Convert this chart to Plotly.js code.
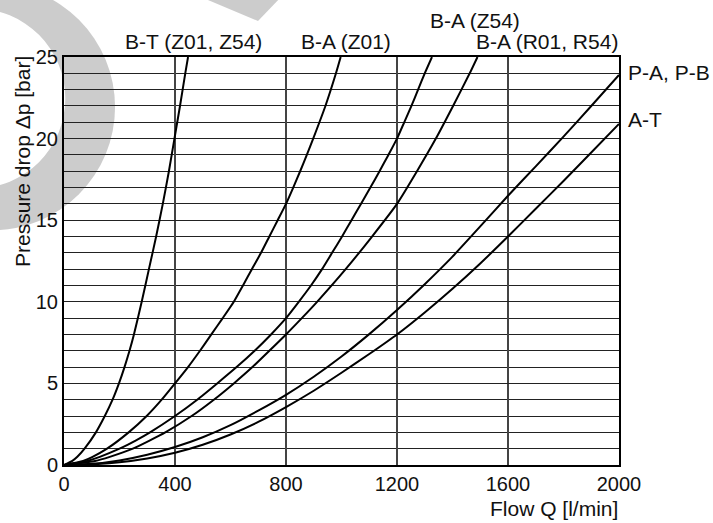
<!DOCTYPE html>
<html>
<head>
<meta charset="utf-8">
<script src="https://cdn.plot.ly/plotly-3.0.1.min.js"></script>
<style>
html,body{margin:0;padding:0;background:#fff;}
#chart{width:713px;height:523px;}
</style>
</head>
<body>
<div id="chart"></div>
<script>
// ---- data ----
const seriesNames = ["B-T (Z01, Z54)", "B-A (Z01)", "B-A (Z54)", "B-A (R01, R54)", "P-A, P-B", "A-T"];

// B-T (Z01, Z54)
const btP = [0, 0.25, 0.5, 1, 2, 3, 4, 5, 6, 7, 8, 10, 12, 14, 16, 18, 20, 22, 24, 25];
const btQ = [0, 30, 48, 74, 115, 147, 175, 198, 218, 236, 252, 280, 306, 332, 356, 378, 398, 418, 437, 447];

// B-A (Z01)
const baZ01P = [0, 0.25, 0.5, 1, 2, 3, 4, 5, 6, 7, 8, 9, 10, 11, 12, 13, 14, 15, 16, 17, 18, 19, 20, 22, 24, 25];
const baZ01Q = [0, 69, 103, 155, 233, 298, 352, 400, 447, 490, 531, 572, 612, 645, 677, 710, 740, 770, 800, 826, 851, 875, 898, 942, 980, 997];

// B-A (Z54)
const baZ54P = [0, 0.25, 0.5, 1, 1.5, 2, 3, 4, 5, 6, 7, 8, 9, 10, 11, 12, 13, 14, 15, 16, 17, 18, 19, 20, 21, 22, 23, 24, 25];
const baZ54Q = [0, 83, 129, 200, 258, 310, 400, 480, 552, 622, 687, 746, 800, 846, 890, 930, 966, 1002, 1036, 1070, 1104, 1137, 1169, 1200, 1226, 1252, 1276, 1300, 1326];

// B-A (R01, R54)
const baRP = [0, 0.25, 0.5, 1, 2, 3, 4, 5, 6, 7, 8, 9, 10, 12, 14, 16, 18, 20, 22, 24, 25];
const baRQ = [0, 112, 165, 248, 365, 460, 540, 612, 679, 740, 800, 857, 912, 1015, 1110, 1200, 1272, 1340, 1402, 1462, 1490];

// P-A, P-B
const paQ = [0, 100, 200, 300, 400, 500, 600, 700, 800, 900, 1000, 1100, 1200, 1300, 1400, 1500, 1600, 1700, 1800, 1900, 2000];
const paP = [0, 0.07, 0.28, 0.63, 1.1, 1.7, 2.44, 3.33, 4.3, 5.41, 6.65, 8.02, 9.5, 11.08, 12.77, 14.62, 16.5, 18.3, 20.12, 22.0, 23.9];

// A-T
const atQ = [0, 100, 200, 300, 400, 500, 600, 700, 800, 900, 1000, 1100, 1200, 1300, 1400, 1500, 1600, 1700, 1800, 1900, 2000];
const atP = [0, 0.04, 0.17, 0.4, 0.75, 1.24, 1.87, 2.64, 3.55, 4.55, 5.65, 6.8, 8.0, 9.35, 10.8, 12.35, 14.0, 15.7, 17.4, 19.15, 20.9];

const xTickVals = [0, 400, 800, 1200, 1600, 2000];
const yTickVals = [0, 5, 10, 15, 20, 25];
const xTitle = "Flow Q [l/min]";
const yTitle = "Pressure drop Δp [bar]";

// ---- layout geometry (pixels) ----
const W = 713, H = 523;
const M = {l: 64, r: 94, t: 57, b: 58};
const PW = W - M.l - M.r, PH = H - M.t - M.b;
const px = x => (x - M.l) / PW;          // pixel x -> paper
const py = y => (H - M.b - y) / PH;      // pixel y -> paper

const lineStyle = {color: "#000", width: 2, shape: "spline", smoothing: 0.5};
const xs = [btQ, baZ01Q, baZ54Q, baRQ, paQ, atQ];
const ys = [btP, baZ01P, baZ54P, baRP, paP, atP];
const traces = xs.map((x, i) => ({
  type: "scatter", mode: "lines", name: seriesNames[i],
  x: x, y: ys[i], line: lineStyle, hoverinfo: "skip"
}));

const FONT = "'Liberation Sans', Arial, sans-serif";
const tickTxt = {family: FONT, size: 20, color: "#111"};
const txt = {family: FONT, size: 21, color: "#111"};

function ann(text, x, y, xanchor, yanchor, extra) {
  return Object.assign({text: text, xref: "paper", yref: "paper", x: x, y: y,
    xanchor: xanchor, yanchor: yanchor, showarrow: false, font: txt}, extra || {});
}

const annotations = [
  ann(seriesNames[0], px(193.5), py(41.5), "center", "middle"),
  ann(seriesNames[1], px(345.5), py(41.5), "center", "middle"),
  ann(seriesNames[2], px(474.5), py(20.5), "center", "middle"),
  ann(seriesNames[3], px(620), py(41.5), "right", "middle"),
  ann(seriesNames[4], px(626), py(72), "left", "middle"),
  ann(seriesNames[5], px(626), py(119.5), "left", "middle"),
  ann(xTitle, px(620), py(508), "right", "middle"),
  ann(yTitle, px(22.5), py(54), "center", "top", {textangle: -90})
];

// light grey watermark (decoration)
const G = "#cccccc";
function circ(cx, cy, r, fill) {
  return {type: "circle", xref: "paper", yref: "paper", layer: "below",
    x0: px(cx - r), x1: px(cx + r), y0: py(cy + r), y1: py(cy - r),
    fillcolor: fill, line: {width: 0}};
}
const shapes = [
  circ(-8.25, 107, 123.3, G),
  circ(-24.7, 98.5, 90, "#ffffff"),
  {type: "path", xref: "paper", yref: "paper", layer: "below",
   path: `M ${px(196)} ${py(-5)} L ${px(283)} ${py(-5)} L ${px(258)} ${py(21)} Z`,
   fillcolor: G, line: {width: 0}}
];

const layout = {
  width: W, height: H,
  margin: {l: M.l, r: M.r, t: M.t, b: M.b, pad: 0},
  paper_bgcolor: "#ffffff", plot_bgcolor: "rgba(0,0,0,0)",
  showlegend: false,
  font: txt,
  xaxis: {
    range: [0, 2000], tickmode: "array", tickvals: xTickVals,
    showgrid: true, gridcolor: "#444", gridwidth: 1.2,
    showline: true, linecolor: "#000", linewidth: 2, mirror: true,
    ticks: "", zeroline: false, tickfont: tickTxt, fixedrange: true
  },
  yaxis: {
    range: [0, 25], tickmode: "array", tickvals: yTickVals,
    showgrid: true, gridcolor: "#222", gridwidth: 1,
    minor: {dtick: 1, tick0: 0, showgrid: true, gridcolor: "#222", gridwidth: 1, ticks: ""},
    showline: true, linecolor: "#000", linewidth: 2, mirror: true,
    ticks: "", zeroline: false, tickfont: tickTxt, fixedrange: true
  },
  annotations: annotations,
  shapes: shapes
};

Plotly.newPlot("chart", traces, layout, {staticPlot: true, displayModeBar: false});
</script>
</body>
</html>
